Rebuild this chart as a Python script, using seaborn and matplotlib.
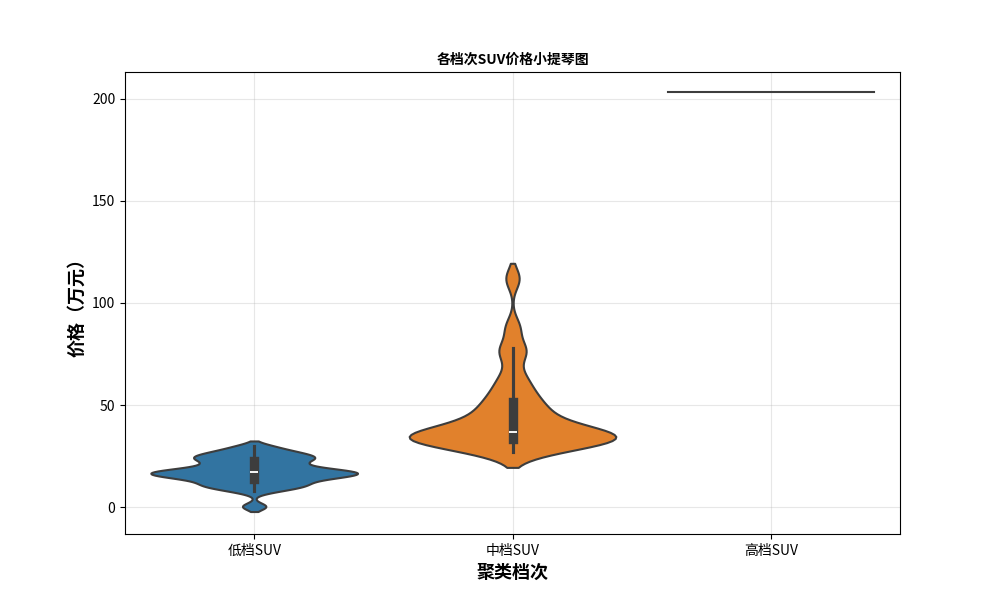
import matplotlib
matplotlib.use("Agg")
import matplotlib.pyplot as plt
import seaborn as sns
import pandas as pd

low_prices = [0.5, 8, 9.5, 10.5, 11, 12, 13, 14, 14.5, 15, 15.5, 16, 16.5, 17, 17, 17.5,
              18, 18.5, 19, 20, 21, 22, 23, 24, 24.5, 25, 26, 27, 28, 30]
mid_prices = [27, 29, 30, 31, 32, 32, 33, 33, 34, 34, 35, 35, 36, 36, 37, 37, 38, 40,
              42, 44, 46, 48, 50, 53, 56, 60, 65, 75, 78, 88, 112]
high_prices = [203]
tiers = ["低档SUV", "中档SUV", "高档SUV"]

df = pd.DataFrame({
    "tier": [tiers[0]] * len(low_prices) + [tiers[1]] * len(mid_prices) + [tiers[2]] * len(high_prices),
    "price": low_prices + mid_prices + high_prices,
})

plt.rcParams["font.family"] = ["Noto Sans CJK SC", "DejaVu Sans"]
plt.rcParams["axes.unicode_minus"] = False

fig, ax = plt.subplots(figsize=(10, 6), dpi=100)
sns.violinplot(data=df, x="tier", y="price", hue="tier", order=tiers, palette="tab10",
               bw_adjust=0.5, cut=1.5, linewidth=1.5, ax=ax)
ax.grid(True, alpha=0.3)
ax.set_axisbelow(True)
ax.set_title("各档次SUV价格小提琴图", fontsize=10, fontweight="bold")
ax.set_xlabel("聚类档次", fontsize=13, fontweight="bold")
ax.set_ylabel("价格（万元）", fontsize=13, fontweight="bold")
ax.set_ylim(-13, 213)
fig.subplots_adjust(left=0.125, right=0.9, top=0.88, bottom=0.11)
fig.savefig("out.png")
